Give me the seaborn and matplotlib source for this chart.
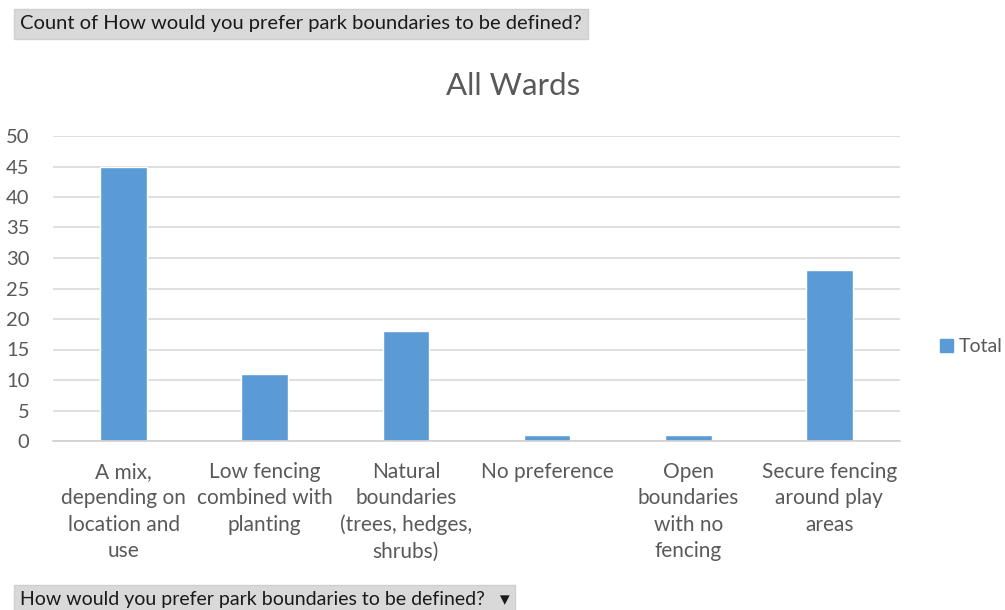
import matplotlib
matplotlib.use("Agg")
import matplotlib.pyplot as plt
import seaborn as sns
import pandas as pd
from matplotlib.patches import Patch

categories = [
    "A mix,\ndepending on\nlocation and\nuse",
    "Low fencing\ncombined with\nplanting",
    "Natural\nboundaries\n(trees, hedges,\nshrubs)",
    "No preference",
    "Open\nboundaries\nwith no\nfencing",
    "Secure fencing\naround play\nareas",
]
totals = [45, 11, 18, 1, 1, 28]
y_ticks = [0, 5, 10, 15, 20, 25, 30, 35, 40, 45, 50]

df = pd.DataFrame({"category": categories, "Total": totals})

sns.set_style("white")
plt.rcParams["font.family"] = ["Lato", "DejaVu Sans"]

bar_color = "#5B9BD5"
text_color = "#595959"

fig = plt.figure(figsize=(10.05, 6.10), dpi=100)
ax = fig.add_axes([53 / 1005, 1 - 441 / 610, 847 / 1005, 305 / 610])

sns.barplot(data=df, x="category", y="Total", color=bar_color, width=0.33,
            saturation=1, ax=ax)

ax.set_ylim(0, 50)
ax.set_xlim(-0.5, len(categories) - 0.5)
ax.set_yticks(y_ticks)
ax.yaxis.grid(True, color="#D9D9D9", linewidth=1.2)
ax.set_axisbelow(True)
for side in ["top", "right", "left"]:
    ax.spines[side].set_visible(False)
ax.spines["bottom"].set_color("#D0D0D0")
ax.spines["bottom"].set_linewidth(1.2)
ax.tick_params(axis="both", length=0, colors=text_color)
ax.tick_params(axis="x", pad=15, labelsize=15)
ax.tick_params(axis="y", pad=17, labelsize=14.5)
for lbl in ax.get_xticklabels():
    lbl.set_linespacing(1.4)
ax.set_xlabel("")
ax.set_ylabel("")

fig.text(513 / 1005, 1 - 86 / 610, "All Wards", ha="center", va="center",
         fontsize=22.5, color=text_color)

ax.legend(handles=[Patch(color=bar_color, label="Total")], loc="center left",
          bbox_to_anchor=(1 + 40 / 847, 0.31), frameon=False, fontsize=14,
          borderaxespad=0, borderpad=0,
          handlelength=0.65, handleheight=0.65, handletextpad=0.3,
          labelcolor=text_color)

# pivot field buttons
fig.text(20 / 1005, 1 - 24 / 610, "Count of How would you prefer park boundaries to be defined?",
         ha="left", va="center", fontsize=14.5, color="#1a1a1a",
         bbox=dict(boxstyle="square,pad=0.3", facecolor="#D9D9D9", edgecolor="#CFCFCF"))
fig.text(20 / 1005, 1 - 599 / 610, "How would you prefer park boundaries to be defined?   \u25be",
         ha="left", va="center", fontsize=14, color="#1a1a1a",
         bbox=dict(boxstyle="square,pad=0.3", facecolor="#D9D9D9", edgecolor="#CFCFCF"))

fig.savefig("out.png", dpi=100, facecolor="white")
